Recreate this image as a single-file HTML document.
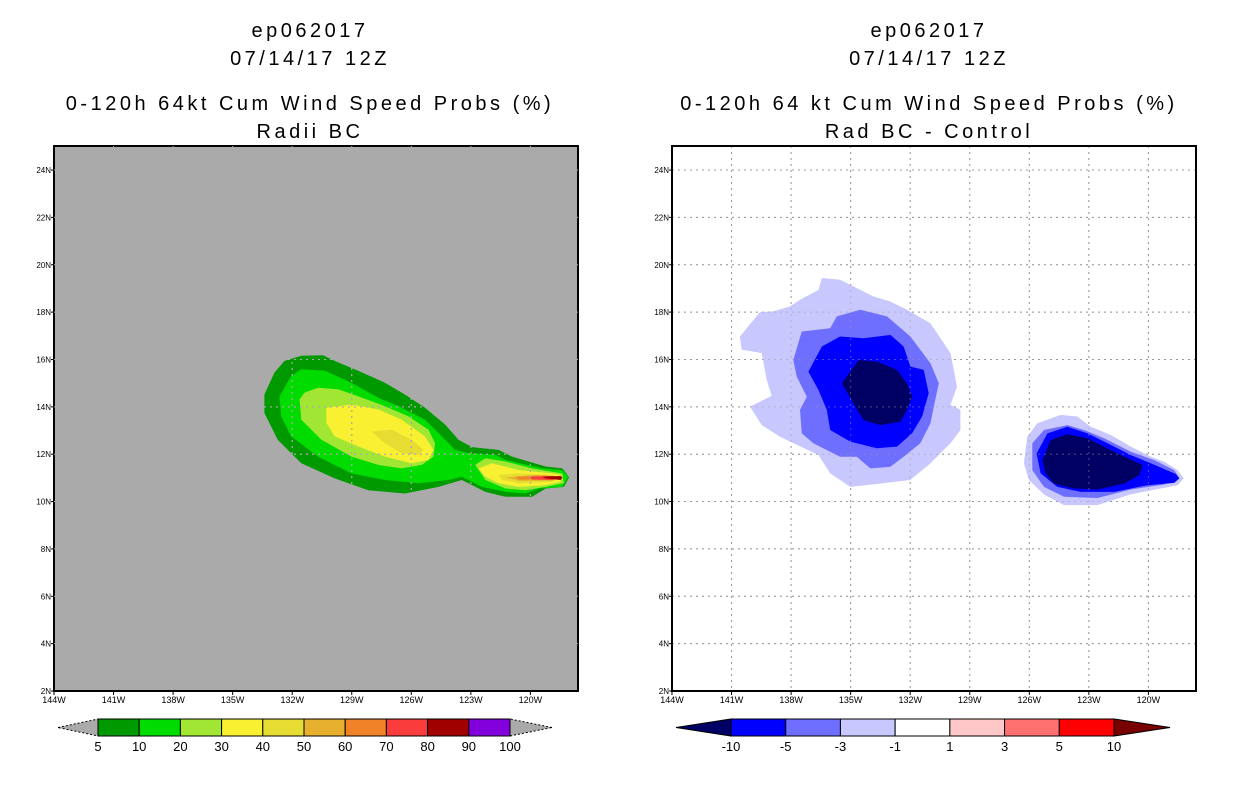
<!DOCTYPE html>
<html><head><meta charset="utf-8"><style>
body{margin:0;background:#fff;}
svg{display:block;font-family:"Liberation Sans",sans-serif;}
</style></head><body>
<svg id="s" width="1236" height="800" xmlns="http://www.w3.org/2000/svg"></svg>
<script>
// ---- data ----
const lonTicks=[144,141,138,135,132,129,126,123,120];
const latTicks=[2,4,6,8,10,12,14,16,18,20,22,24];
const leftColors=['#009a00','#00dc00','#a0e632','#f8f030','#e6dc32','#e6af2d','#f08228','#fa3c3c','#a00000','#8200dc'];
const leftLevels=['5','10','20','30','40','50','60','70','80','90','100'];
const rightColors=['#0000ff','#6e6eff','#c8c8ff','#ffffff','#ffc8c8','#ff7070','#ff0000'];
const rightLevels=['-10','-5','-3','-1','1','3','5','10'];
// contour polygons: [lonW, latN] pairs
const leftContours=[
 {c:0,p:[[133.40,14.52],[132.89,15.45],[132.39,15.94],[131.54,16.16],[130.45,16.18],[129.86,15.94],[128.68,15.52],[127.33,15.02],[126.32,14.52],[125.31,13.96],[124.29,13.25],[123.62,12.61],[122.94,12.30],[121.60,12.18],[120.92,11.90],[119.23,11.48],[118.39,11.40],[118.05,11.02],[118.31,10.62],[119.23,10.55],[119.91,10.20],[121.26,10.20],[122.27,10.41],[123.45,10.91],[124.63,10.62],[126.32,10.34],[128.17,10.48],[129.86,10.98],[131.54,11.62],[132.73,12.61],[133.40,13.74]]},
 {c:1,p:[[132.64,14.45],[132.05,15.30],[131.54,15.59],[130.36,15.52],[129.02,15.02],[127.67,14.38],[126.65,14.03],[125.31,13.46],[124.46,12.75],[123.79,12.18],[123.11,12.04],[121.76,11.97],[121.26,11.76],[119.40,11.40],[118.39,11.33],[118.09,11.02],[118.39,10.62],[119.57,10.55],[120.25,10.34],[121.26,10.41],[122.44,10.62],[123.45,11.05],[124.12,10.91],[125.64,10.77],[127.33,10.91],[129.02,11.19],[130.70,11.90],[132.05,12.75],[132.56,13.60]]},
 {c:2,p:[[131.63,14.31],[131.38,14.60],[130.70,14.81],[129.69,14.74],[128.68,14.45],[127.33,14.03],[126.15,13.60],[125.14,13.04],[124.80,12.47],[124.88,11.90],[125.47,11.55],[126.49,11.40],[127.67,11.55],[129.02,11.90],[130.53,12.61],[131.54,13.46]]},
 {c:2,p:[[122.78,11.55],[122.27,11.83],[121.26,11.69],[119.91,11.40],[118.90,11.26],[118.39,11.19],[118.31,10.77],[119.23,10.62],[120.25,10.48],[121.26,10.55],[122.27,10.91]]},
 {c:3,p:[[130.28,13.96],[129.02,14.10],[127.67,13.89],[126.49,13.46],[125.31,12.75],[124.88,12.18],[125.14,11.76],[125.98,11.62],[127.33,11.90],[128.68,12.33],[129.86,12.75],[130.28,13.32]]},
 {c:3,p:[[122.61,11.40],[121.93,11.62],[120.58,11.33],[118.90,11.19],[118.48,11.12],[118.48,10.84],[119.23,10.69],[120.58,10.62],[121.60,10.77],[122.27,11.05]]},
 {c:4,p:[[128.0,12.96],[126.99,13.04],[125.98,12.61],[125.39,12.18],[125.64,11.97],[126.49,12.04],[127.33,12.47]]},
 {c:4,p:[[121.60,11.12],[120.58,11.19],[118.90,11.12],[118.48,11.02],[118.90,10.84],[120.58,10.77],[121.43,10.91]]},
 {c:5,p:[[121.26,11.02],[119.74,11.12],[118.56,11.05],[118.90,10.88],[120.58,10.88]]},
 {c:6,p:[[120.75,11.05],[119.23,11.10],[118.48,11.03],[119.23,10.93],[120.58,10.93]]},
 {c:7,p:[[120.07,11.05],[118.90,11.08],[118.43,11.01],[118.90,10.91],[119.91,10.93]]},
 {c:8,p:[[119.40,11.05],[118.48,11.08],[118.39,11.01],[118.48,10.91],[119.23,10.98]]}
];
const rightContours=[
 {c:'#c8c8ff',p:[[139.57,18.0],[140.58,16.97],[140.49,16.41],[139.48,16.27],[139.23,15.14],[138.98,14.46],[140.07,14.01],[139.48,13.23],[138.56,12.74],[136.62,11.96],[136.03,11.19],[135.02,10.62],[133.51,10.76],[132.0,10.91],[130.98,11.61],[129.97,12.46],[129.47,13.02],[129.47,13.87],[129.97,14.08],[129.64,14.85],[129.97,16.27],[130.98,17.53],[132.16,18.10],[133.0,18.45],[133.85,18.66],[135.53,19.37],[136.45,19.44],[136.62,18.94],[137.55,18.52],[138.05,18.24],[138.9,18.03]]},
 {c:'#6e6eff',p:[[137.89,15.98],[137.46,17.18],[136.03,17.32],[135.7,17.82],[134.52,18.10],[133.17,17.82],[131.99,16.97],[130.98,15.84],[130.56,15.0],[130.81,14.01],[130.98,13.30],[131.49,12.46],[132.33,11.89],[133.0,11.47],[134.01,11.40],[134.69,11.89],[135.53,11.89],[136.88,12.46],[137.46,12.88],[137.55,13.87],[137.21,14.43],[137.72,15.28]]},
 {c:'#0000ff',p:[[137.13,15.49],[136.45,16.55],[135.53,16.97],[134.35,16.90],[133.0,17.04],[132.33,16.55],[131.99,15.70],[131.32,15.56],[131.07,14.57],[131.40,13.59],[131.91,12.88],[132.67,12.32],[133.68,12.25],[135.02,12.53],[136.03,13.02],[136.2,13.87],[136.62,14.71]]},
 {c:'#000064',p:[[135.44,15.0],[134.6,15.98],[133.68,15.91],[132.67,15.56],[132.16,15.0],[131.91,14.43],[132.16,13.87],[132.5,13.37],[133.51,13.23],[134.35,13.44],[134.86,14.15]]},
 {c:'#c8c8ff',p:[[126.10,12.74],[125.60,13.30],[124.42,13.66],[123.58,13.59],[122.90,13.16],[121.89,12.81],[120.88,12.32],[119.87,11.89],[119.20,11.68],[118.53,11.33],[118.22,10.98],[118.53,10.69],[119.37,10.55],[120.88,10.31],[122.57,9.85],[124.25,9.85],[125.26,10.30],[126.02,10.91],[126.27,11.61]]},
 {c:'#6e6eff',p:[[125.85,12.46],[125.26,13.02],[124.08,13.23],[123.24,13.02],[122.23,12.67],[120.88,12.10],[119.70,11.75],[118.70,11.33],[118.44,10.98],[119.20,10.72],[120.88,10.51],[122.57,10.15],[124.25,10.20],[125.26,10.62],[125.85,11.33]]},
 {c:'#0000ff',p:[[125.63,12.03],[125.09,12.88],[124.08,13.16],[123.07,12.88],[122.06,12.46],[120.88,11.96],[119.87,11.61],[118.61,11.16],[118.44,10.98],[118.70,10.79],[120.04,10.69],[121.72,10.41],[123.41,10.41],[124.59,10.62],[125.43,11.19]]},
 {c:'#000064',p:[[125.34,11.75],[124.92,12.60],[124.08,12.85],[123.07,12.67],[121.89,12.17],[120.29,11.54],[120.46,11.12],[121.22,10.76],[122.57,10.51],[123.75,10.55],[124.76,10.76],[125.18,11.19]]}
];
// ---- drawing ----
const NS='http://www.w3.org/2000/svg';
const svg=document.getElementById('s');
function mk(tag,attrs,parent){const e=document.createElementNS(NS,tag);for(const k in attrs)e.setAttribute(k,attrs[k]);(parent||svg).appendChild(e);return e;}
function txt(x,y,s,size,anchor,parent){const t=mk('text',{x:x,y:y,'font-size':size,'text-anchor':anchor||'middle',fill:'#000'},parent);t.textContent=s;return t;}
const PW=524,Y0=691,PPD_X=19.85,PPD_Y=23.68;
function panel(x0,bg,grid,contours,colorOf,titles,cx,name,gridUnder){
  const g=mk('g',{});
  
  
  const X=lon=>x0+(144-lon)*PPD_X;
  const Y=lat=>Y0-(lat-2)*PPD_Y;
  const bgr=mk('rect',{x:x0,y:146,width:PW,height:545,fill:bg},g);
  
  
  const gg=mk('g',{stroke:grid,'stroke-width':1,'stroke-dasharray':'2,4'});
  
  
  lonTicks.slice(1).forEach(l=>mk('line',{x1:X(l),x2:X(l),y1:146,y2:691},gg));
  latTicks.slice(1).forEach(l=>mk('line',{x1:x0,x2:x0+PW,y1:Y(l),y2:Y(l)},gg));
  if(gridUnder) g.appendChild(gg);
  contours.forEach((ct,i)=>{
    const d='M'+ct.p.map(q=>X(q[0]).toFixed(1)+','+Y(q[1]).toFixed(1)).join('L')+'Z';
    const p=mk('path',{d:d,fill:colorOf(ct.c)},g);
    
    
  });
  const gg2=gg.cloneNode(true);gg2.setAttribute('opacity',gridUnder?'0.5':'1');g.appendChild(gg2);
  const fr=mk('rect',{x:x0,y:146,width:PW,height:545,fill:'none',stroke:'#000','stroke-width':2},g);
  
  
  lonTicks.forEach(l=>{mk('line',{x1:X(l),x2:X(l),y1:691,y2:695,stroke:'#000'},g);
    const t=txt(X(l),703,l+'W',9,'middle',g);
    
    });
  latTicks.forEach(l=>{mk('line',{x1:x0-3,x2:x0,y1:Y(l),y2:Y(l),stroke:'#000'},g);
    const t=txt(x0-3,Y(l)+3,l+'N',8,'end',g);
    
    });
  const ys=[37,65,110,138];
  titles.forEach((s,i)=>{const t=txt(cx,ys[i],s,20,'middle',g);
    
    
    t.setAttribute('letter-spacing','3.5');});
}
panel(54,'#aaaaaa','#aaaaaa',leftContours,c=>leftColors[c],['ep062017','07/14/17 12Z','0-120h 64kt Cum Wind Speed Probs (%)','Radii BC'],310,'left-panel',false);
panel(672,'#ffffff','#999999',rightContours,c=>c,['ep062017','07/14/17 12Z','0-120h 64 kt Cum Wind Speed Probs (%)','Rad BC - Control'],929,'right-panel',true);

// colorbars
function colorbar(x0,x1,tipL,tipR,colors,levels,triL,triR,name){
  const g=mk('g',{});
  
  
  const y0=719,y1=736,ym=(y0+y1)/2,w=(x1-x0)/colors.length;
  mk('polygon',{points:`${tipL},${ym} ${x0},${y0} ${x0},${y1}`,fill:triL,stroke:'#000','stroke-width':1,'stroke-dasharray':triL=='#aaaaaa'?'2,2':''},g);
  mk('polygon',{points:`${tipR},${ym} ${x1},${y0} ${x1},${y1}`,fill:triR,stroke:'#000','stroke-width':1,'stroke-dasharray':triR=='#aaaaaa'?'2,2':''},g);
  colors.forEach((c,i)=>{const r=mk('rect',{x:x0+i*w,y:y0,width:w,height:y1-y0,fill:c,stroke:'#000','stroke-width':1},g);
    
    });
  levels.forEach((l,i)=>{const t=txt(x0+i*w,751,l,13,'middle',g);
    
    });
}
colorbar(98,510,58,552,leftColors,leftLevels,'#aaaaaa','#aaaaaa','left-colorbar');
colorbar(731,1114,676,1170,rightColors,rightLevels,'#000064','#780000','right-colorbar');
</script>
</body></html>
